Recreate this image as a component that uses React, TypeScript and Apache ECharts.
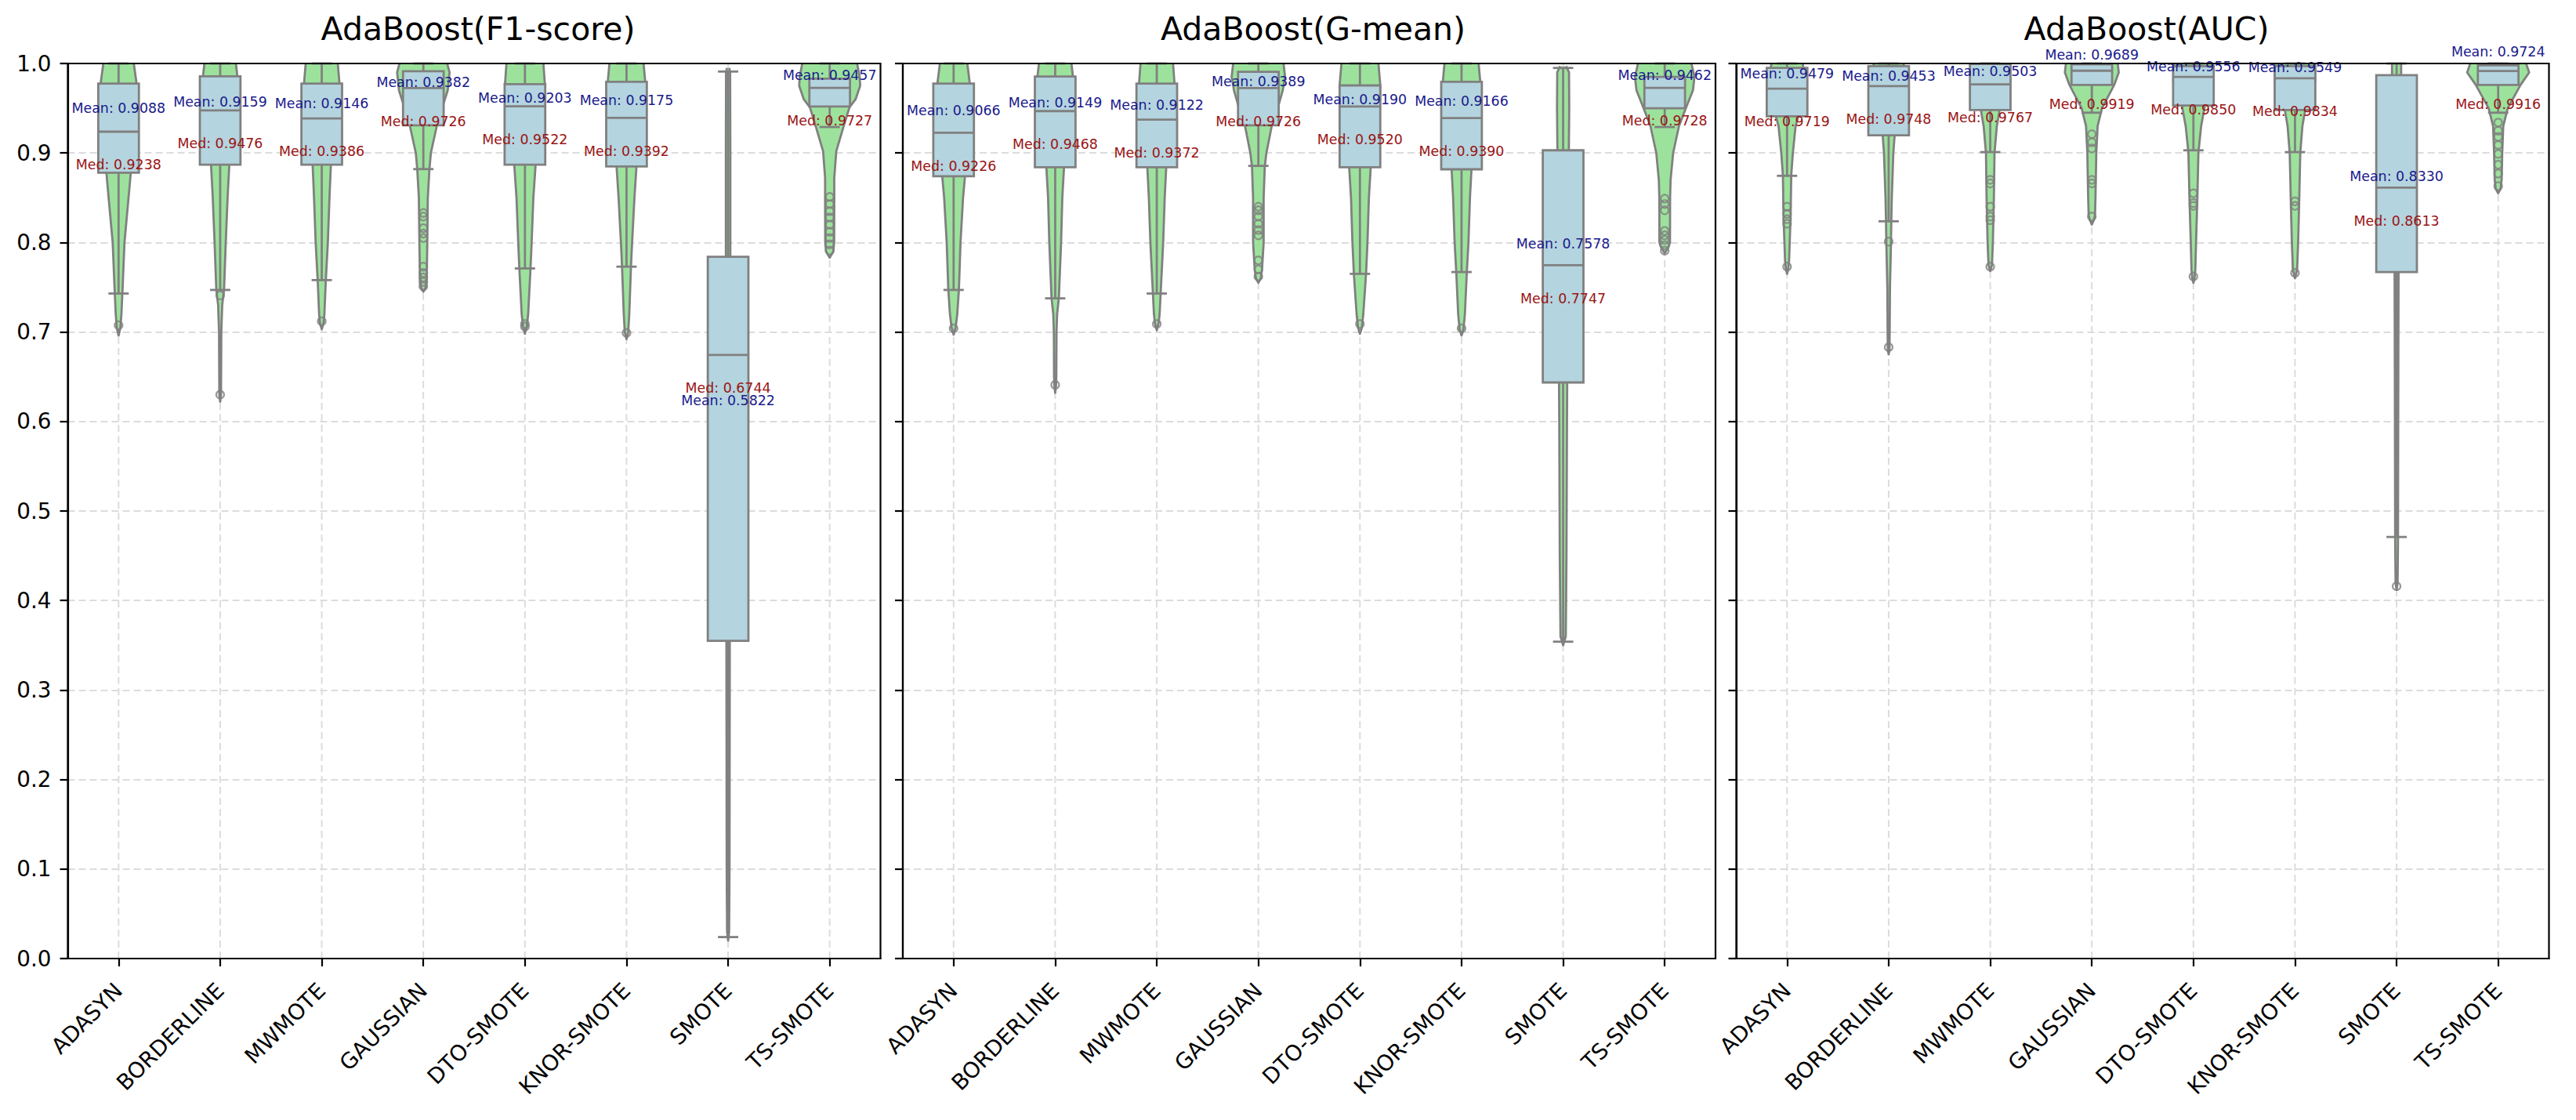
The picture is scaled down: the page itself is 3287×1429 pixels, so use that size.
import React, { useEffect, useRef } from "react";
import * as echarts from "echarts";

// ---------------- data ----------------
const CATEGORIES = ["ADASYN", "BORDERLINE", "MWMOTE", "GAUSSIAN", "DTO-SMOTE", "KNOR-SMOTE", "SMOTE", "TS-SMOTE"];
const TITLES = ["AdaBoost(F1-score)", "AdaBoost(G-mean)", "AdaBoost(AUC)"];
const Y_TICKS = [0, 0.1, 0.2, 0.3, 0.4, 0.5, 0.6, 0.7, 0.8, 0.9, 1.0];

// F1-score
const F1_MEAN = [0.9088, 0.9159, 0.9146, 0.9382, 0.9203, 0.9175, 0.5822, 0.9457];
const F1_MEDIAN = [0.9238, 0.9476, 0.9386, 0.9726, 0.9522, 0.9392, 0.6744, 0.9727];
const F1_Q1 = [0.878, 0.887, 0.887, 0.931, 0.887, 0.885, 0.355, 0.952];
const F1_Q3 = [0.9775, 0.9856, 0.9775, 0.9913, 0.9769, 0.9795, 0.784, 0.983];
const F1_LOW = [0.743, 0.747, 0.758, 0.882, 0.771, 0.773, 0.024, 0.929];
const F1_HIGH = [1.0, 1.0, 1.0, 1.0, 1.0, 1.0, 0.991, 1.0];
const F1_OUTLIERS = [
  [0.7075],
  [0.741, 0.63],
  [0.712],
  [0.833, 0.829, 0.816, 0.81, 0.805, 0.773, 0.766, 0.761, 0.756, 0.751],
  [0.709, 0.706],
  [0.699],
  [],
  [0.851, 0.843, 0.835, 0.828, 0.82, 0.812, 0.805, 0.798, 0.791],
];
const F1_VIOLIN = [
  [[1.0, 0.15], [0.975, 0.18], [0.95, 0.185], [0.92, 0.175], [0.9, 0.15], [0.878, 0.12], [0.85, 0.098], [0.8, 0.058], [0.75, 0.04], [0.72, 0.028], [0.705, 0.018], [0.696, 0]],
  [[1.0, 0.155], [0.985, 0.17], [0.95, 0.175], [0.92, 0.15], [0.887, 0.09], [0.85, 0.073], [0.8, 0.055], [0.747, 0.038], [0.73, 0.02], [0.7, 0.011], [0.65, 0.009], [0.63, 0.008], [0.622, 0]],
  [[1.0, 0.158], [0.977, 0.175], [0.95, 0.175], [0.92, 0.15], [0.887, 0.09], [0.85, 0.076], [0.8, 0.06], [0.758, 0.04], [0.72, 0.026], [0.71, 0.018], [0.703, 0]],
  [[1.0, 0.235], [0.99, 0.258], [0.97, 0.24], [0.945, 0.17], [0.931, 0.134], [0.9, 0.074], [0.882, 0.06], [0.85, 0.044], [0.8, 0.039], [0.76, 0.033], [0.75, 0.024], [0.745, 0]],
  [[1.0, 0.182], [0.977, 0.196], [0.95, 0.19], [0.92, 0.16], [0.887, 0.105], [0.85, 0.083], [0.8, 0.066], [0.771, 0.055], [0.72, 0.032], [0.706, 0.018], [0.698, 0]],
  [[1.0, 0.168], [0.98, 0.184], [0.95, 0.185], [0.92, 0.155], [0.885, 0.098], [0.85, 0.078], [0.8, 0.055], [0.773, 0.044], [0.72, 0.027], [0.7, 0.017], [0.692, 0]],
  [[0.995, 0.012], [0.99, 0.02], [0.9, 0.022], [0.8, 0.022], [0.7, 0.02], [0.5, 0.018], [0.3, 0.016], [0.1, 0.014], [0.03, 0.01], [0.02, 0]],
  [[1.0, 0.27], [0.985, 0.295], [0.975, 0.3], [0.96, 0.255], [0.951, 0.195], [0.929, 0.135], [0.902, 0.065], [0.872, 0.045], [0.85, 0.045], [0.8, 0.044], [0.79, 0.036], [0.783, 0]],
];

// G-mean
const G_MEAN = [0.9066, 0.9149, 0.9122, 0.9389, 0.919, 0.9166, 0.7578, 0.9462];
const G_MEDIAN = [0.9226, 0.9468, 0.9372, 0.9726, 0.952, 0.939, 0.7747, 0.9728];
const G_Q1 = [0.874, 0.884, 0.884, 0.931, 0.884, 0.8818, 0.6436, 0.95];
const G_Q3 = [0.9775, 0.9854, 0.9775, 0.9907, 0.9755, 0.9796, 0.903, 0.985];
const G_LOW = [0.747, 0.7376, 0.743, 0.8856, 0.765, 0.767, 0.354, 0.929];
const G_HIGH = [1.0, 1.0, 1.0, 1.0, 1.0, 1.0, 0.995, 1.0];
const G_OUTLIERS = [
  [0.704],
  [0.641],
  [0.709],
  [0.84, 0.836, 0.829, 0.821, 0.814, 0.808, 0.78, 0.77, 0.762],
  [0.709],
  [0.704],
  [],
  [0.849, 0.843, 0.836, 0.813, 0.808, 0.803, 0.797, 0.791],
];
const G_VIOLIN = [
  [[1.0, 0.135], [0.977, 0.16], [0.95, 0.17], [0.92, 0.16], [0.874, 0.112], [0.85, 0.093], [0.8, 0.068], [0.747, 0.052], [0.72, 0.036], [0.705, 0.02], [0.697, 0]],
  [[1.0, 0.16], [0.985, 0.175], [0.95, 0.175], [0.92, 0.14], [0.884, 0.087], [0.85, 0.07], [0.8, 0.058], [0.738, 0.036], [0.72, 0.019], [0.7, 0.013], [0.65, 0.011], [0.64, 0.008], [0.632, 0]],
  [[1.0, 0.16], [0.977, 0.175], [0.95, 0.175], [0.92, 0.15], [0.884, 0.093], [0.85, 0.078], [0.8, 0.063], [0.743, 0.038], [0.72, 0.028], [0.71, 0.018], [0.702, 0]],
  [[1.0, 0.248], [0.985, 0.263], [0.97, 0.24], [0.95, 0.19], [0.931, 0.133], [0.9, 0.079], [0.885, 0.063], [0.85, 0.052], [0.8, 0.052], [0.77, 0.036], [0.76, 0.024], [0.755, 0]],
  [[1.0, 0.182], [0.976, 0.2], [0.95, 0.197], [0.92, 0.17], [0.884, 0.106], [0.85, 0.088], [0.8, 0.074], [0.765, 0.06], [0.72, 0.033], [0.705, 0.019], [0.698, 0]],
  [[1.0, 0.168], [0.98, 0.184], [0.95, 0.185], [0.92, 0.16], [0.882, 0.098], [0.85, 0.083], [0.8, 0.068], [0.767, 0.052], [0.72, 0.033], [0.703, 0.019], [0.696, 0]],
  [[0.997, 0.03], [0.99, 0.058], [0.95, 0.06], [0.9, 0.056], [0.8, 0.048], [0.7, 0.043], [0.6, 0.038], [0.45, 0.033], [0.36, 0.026], [0.35, 0]],
  [[1.0, 0.263], [0.985, 0.293], [0.97, 0.278], [0.95, 0.208], [0.93, 0.14], [0.9, 0.083], [0.87, 0.058], [0.85, 0.053], [0.8, 0.052], [0.795, 0.038], [0.788, 0]],
];

// AUC
const AUC_MEAN = [0.9479, 0.9453, 0.9503, 0.9689, 0.9556, 0.9549, 0.833, 0.9724];
const AUC_MEDIAN = [0.9719, 0.9748, 0.9767, 0.9919, 0.985, 0.9834, 0.8613, 0.9916];
const AUC_Q1 = [0.941, 0.9197, 0.948, 0.976, 0.953, 0.948, 0.767, 0.976];
const AUC_Q3 = [0.995, 0.997, 0.9995, 0.999, 0.997, 0.997, 0.987, 0.998];
const AUC_LOW = [0.8745, 0.8237, 0.901, 0.945, 0.903, 0.901, 0.471, 0.945];
const AUC_HIGH = [1.0, 1.0, 1.0, 1.0, 1.0, 1.0, 1.0, 1.0];
const AUC_OUTLIERS = [
  [0.84, 0.832, 0.826, 0.821, 0.773],
  [0.801, 0.683],
  [0.87, 0.866, 0.84, 0.829, 0.825, 0.773],
  [0.921, 0.912, 0.905, 0.87, 0.866, 0.829],
  [0.855, 0.844, 0.841, 0.762],
  [0.846, 0.841, 0.766],
  [0.416],
  [0.934, 0.925, 0.918, 0.909, 0.899, 0.887, 0.877, 0.863],
];
const AUC_VIOLIN = [
  [[1.0, 0.155], [0.98, 0.175], [0.96, 0.17], [0.941, 0.11], [0.93, 0.084], [0.9, 0.057], [0.875, 0.041], [0.83, 0.035], [0.8, 0.026], [0.78, 0.02], [0.77, 0.011], [0.765, 0]],
  [[1.0, 0.147], [0.98, 0.16], [0.95, 0.13], [0.92, 0.059], [0.9, 0.046], [0.85, 0.031], [0.824, 0.026], [0.8, 0.023], [0.75, 0.013], [0.7, 0.01], [0.68, 0.008], [0.675, 0]],
  [[1.0, 0.16], [0.98, 0.17], [0.96, 0.13], [0.948, 0.092], [0.93, 0.065], [0.9, 0.042], [0.85, 0.036], [0.8, 0.026], [0.775, 0.017], [0.768, 0]],
  [[1.0, 0.255], [0.99, 0.265], [0.976, 0.22], [0.95, 0.1], [0.93, 0.057], [0.9, 0.044], [0.85, 0.036], [0.83, 0.031], [0.825, 0.019], [0.82, 0]],
  [[1.0, 0.193], [0.98, 0.198], [0.965, 0.16], [0.953, 0.113], [0.93, 0.076], [0.9, 0.049], [0.85, 0.039], [0.8, 0.026], [0.77, 0.019], [0.76, 0.011], [0.755, 0]],
  [[1.0, 0.198], [0.98, 0.198], [0.96, 0.15], [0.948, 0.1], [0.93, 0.073], [0.9, 0.052], [0.85, 0.042], [0.8, 0.031], [0.77, 0.021], [0.765, 0.011], [0.76, 0]],
  [[1.0, 0.045], [0.987, 0.045], [0.9, 0.03], [0.8, 0.02], [0.6, 0.016], [0.47, 0.014], [0.42, 0.01], [0.412, 0]],
  [[1.0, 0.275], [0.99, 0.305], [0.976, 0.22], [0.95, 0.094], [0.93, 0.05], [0.9, 0.04], [0.87, 0.034], [0.86, 0.024], [0.855, 0]],
];

const PANELS = [
  { mean: F1_MEAN, median: F1_MEDIAN, q1: F1_Q1, q3: F1_Q3, low: F1_LOW, high: F1_HIGH, outliers: F1_OUTLIERS, violin: F1_VIOLIN },
  { mean: G_MEAN, median: G_MEDIAN, q1: G_Q1, q3: G_Q3, low: G_LOW, high: G_HIGH, outliers: G_OUTLIERS, violin: G_VIOLIN },
  { mean: AUC_MEAN, median: AUC_MEDIAN, q1: AUC_Q1, q3: AUC_Q3, low: AUC_LOW, high: AUC_HIGH, outliers: AUC_OUTLIERS, violin: AUC_VIOLIN },
];

// ---------------- layout / style ----------------
const W = 3287;
const H = 1429;
const GRID_LEFT = [86.5, 1152, 2215.5];
const GRID_TOP = 81;
const GRID_W = 1037;
const GRID_H = 1142;
const FONT = "DejaVu Sans";
const GREEN = "#9ce29c";
const BLUE = "#b4d4df";
const GRAY = "#808080";
const GRIDCOL = "#dcdcdc";
const MEAN_COL = "#1a1a8c";
const MED_COL = "#9a1414";
const LW = 2.8;

function buildOption() {
  const grid: any[] = [];
  const xAxis: any[] = [];
  const yAxis: any[] = [];
  const title: any[] = [];
  const series: any[] = [];

  PANELS.forEach((panel, p) => {
    grid.push({
      left: GRID_LEFT[p], top: GRID_TOP, width: GRID_W, height: GRID_H,
      show: true, borderColor: "#000", borderWidth: 2.2, backgroundColor: "transparent", z: 10,
    });
    title.push({
      text: TITLES[p],
      left: GRID_LEFT[p] + GRID_W / 2,
      top: 11,
      textAlign: "center",
      textStyle: { fontFamily: FONT, fontSize: 41, fontWeight: "normal", color: "#000" },
    });
    xAxis.push({
      type: "category", gridIndex: p, data: CATEGORIES, boundaryGap: true,
      axisLine: { show: true, lineStyle: { color: "#000", width: 2.2 } },
      axisTick: { show: true, alignWithLabel: true, length: 10, lineStyle: { color: "#000", width: 2.2 } },
      axisLabel: { show: true, interval: 0, rotate: 45, margin: 36, fontFamily: FONT, fontSize: 27.8, color: "#000" },
      splitLine: { show: false },
    });
    yAxis.push({
      type: "value", gridIndex: p, min: Y_TICKS[0], max: Y_TICKS[Y_TICKS.length - 1], interval: 0.1,
      axisLine: { show: true, lineStyle: { color: "#000", width: 2.2 } },
      axisTick: { show: true, length: 10, lineStyle: { color: "#000", width: 2.2 } },
      axisLabel: {
        show: p === 0, margin: 21, fontFamily: FONT, fontSize: 27.8, color: "#000",
        formatter: (v: number) => v.toFixed(1),
      },
      splitLine: { show: true, lineStyle: { color: GRIDCOL, width: 2, type: [9, 5] } },
    });

    // vertical dashed grid lines at category centres
    series.push({
      type: "custom", xAxisIndex: p, yAxisIndex: p, z: 1, silent: true,
      data: CATEGORIES.map((_, i) => [i]),
      encode: { x: 0 },
      renderItem: (params: any, api: any) => {
        const i = api.value(0);
        const a = api.coord([i, Y_TICKS[0]]);
        const b = api.coord([i, Y_TICKS[Y_TICKS.length - 1]]);
        return {
          type: "line",
          shape: { x1: a[0], y1: a[1], x2: b[0], y2: b[1] },
          style: { stroke: GRIDCOL, lineWidth: 2, lineDash: [9, 5] },
        };
      },
    });

    // violins
    series.push({
      type: "custom", xAxisIndex: p, yAxisIndex: p, z: 2, silent: true,
      data: CATEGORIES.map((_, i) => [i]),
      encode: { x: 0 },
      renderItem: (params: any, api: any) => {
        const i = api.value(0);
        const prof = panel.violin[i];
        const bw = api.size([1, 0])[0];
        const right = prof.map(([v, w]: number[]) => {
          const c = api.coord([i, v]);
          return [c[0] + w * bw, c[1]];
        });
        const left = prof.map(([v, w]: number[]) => {
          const c = api.coord([i, v]);
          return [c[0] - w * bw, c[1]];
        }).reverse();
        const pts = right.concat(left);
        return {
          type: "group",
          children: [
            { type: "polygon", shape: { points: pts }, style: { fill: GREEN, stroke: null, lineWidth: 0 } },
            { type: "polyline", shape: { points: pts }, style: { fill: null, stroke: GRAY, lineWidth: LW, lineJoin: "round" } },
          ],
        };
      },
    });

    // boxes
    series.push({
      type: "custom", xAxisIndex: p, yAxisIndex: p, z: 3, silent: true,
      data: CATEGORIES.map((_, i) => [i, panel.low[i], panel.q1[i], panel.median[i], panel.q3[i], panel.high[i]]),
      encode: { x: 0, y: [1, 2, 3, 4, 5] },
      renderItem: (params: any, api: any) => {
        const i = api.value(0);
        const bw = api.size([1, 0])[0];
        const yLo = api.coord([i, api.value(1)])[1];
        const yQ1 = api.coord([i, api.value(2)])[1];
        const yMd = api.coord([i, api.value(3)])[1];
        const yQ3 = api.coord([i, api.value(4)])[1];
        const yHi = api.coord([i, api.value(5)])[1];
        const x = api.coord([i, api.value(3)])[0];
        const hb = 0.2 * bw;
        const hc = 0.1 * bw;
        const ls = { stroke: GRAY, lineWidth: LW };
        return {
          type: "group",
          children: [
            { type: "line", shape: { x1: x, y1: yQ3, x2: x, y2: yHi }, style: ls },
            { type: "line", shape: { x1: x, y1: yQ1, x2: x, y2: yLo }, style: ls },
            { type: "line", shape: { x1: x - hc, y1: yHi, x2: x + hc, y2: yHi }, style: ls },
            { type: "line", shape: { x1: x - hc, y1: yLo, x2: x + hc, y2: yLo }, style: ls },
            { type: "rect", shape: { x: x - hb, y: yQ3, width: 2 * hb, height: yQ1 - yQ3 }, style: { fill: BLUE, stroke: GRAY, lineWidth: LW } },
            { type: "line", shape: { x1: x - hb, y1: yMd, x2: x + hb, y2: yMd }, style: ls },
          ],
        };
      },
    });

    // outliers
    const fl: number[][] = [];
    panel.outliers.forEach((arr, i) => arr.forEach((v) => fl.push([i, v])));
    series.push({
      type: "scatter", xAxisIndex: p, yAxisIndex: p, z: 4, silent: true,
      data: fl, symbol: "circle", symbolSize: 10,
      itemStyle: { color: "rgba(0,0,0,0)", borderColor: GRAY, borderWidth: 2.2 },
    });

    // mean / median labels
    series.push({
      type: "custom", xAxisIndex: p, yAxisIndex: p, z: 5, silent: true,
      data: CATEGORIES.map((_, i) => [i, panel.mean[i], panel.median[i]]),
      encode: { x: 0, y: [1, 2] },
      renderItem: (params: any, api: any) => {
        const i = api.value(0);
        const mean = api.value(1);
        const med = api.value(2);
        const pm = api.coord([i, mean + 0.041]);
        const pd = api.coord([i, med - 0.037]);
        return {
          type: "group",
          children: [
            { type: "text", x: pm[0], y: pm[1], style: { text: "Mean: " + mean.toFixed(4), fill: MEAN_COL, fontSize: 17.4, fontFamily: FONT, align: "center", verticalAlign: "middle" } },
            { type: "text", x: pd[0], y: pd[1], style: { text: "Med: " + med.toFixed(4), fill: MED_COL, fontSize: 17.4, fontFamily: FONT, align: "center", verticalAlign: "middle" } },
          ],
        };
      },
    });
  });

  return { animation: false, backgroundColor: "#fff", title, grid, xAxis, yAxis, series };
}

export default function App() {
  const ref = useRef<HTMLDivElement>(null);
  useEffect(() => {
    document.body.style.margin = "0";
    const chart = echarts.init(ref.current as HTMLDivElement, undefined, { renderer: "svg", width: W, height: H });
    chart.setOption(buildOption() as any);
    return () => chart.dispose();
  }, []);
  return <div ref={ref} style={{ width: W, height: H, position: "absolute", left: 0, top: 0 }} />;
}
